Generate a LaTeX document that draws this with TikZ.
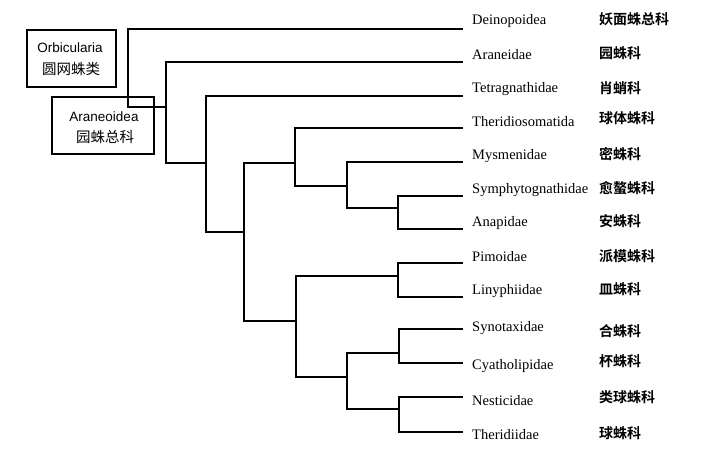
\documentclass[tikz,border=0pt]{standalone}
\usepackage{fontspec}
\setmainfont{Liberation Serif}
\newfontfamily\boxsans{Liberation Sans}
\newfontfamily\cjk{Noto Sans CJK SC}
\newfontfamily\cjkbold{Noto Sans CJK SC Bold}
\begin{document}
\begin{tikzpicture}[x=1pt,y=-1pt,
  branch/.style={line width=1.6pt,line cap=rect},
  taxbox/.style={draw,line width=1.1pt},
  latlabel/.style={anchor=west,inner sep=0pt,font=\fontsize{14.5}{16}\selectfont},
  cnlabel/.style={anchor=west,inner sep=0pt,font=\cjkbold\fontsize{14}{16}\selectfont},
  boxtext/.style={inner sep=0pt,font=\boxsans\fontsize{13.5}{15}\selectfont},
  boxcn/.style={inner sep=0pt,font=\cjk\fontsize{14.5}{16}\selectfont}]
\useasboundingbox (0,0) rectangle (720,448);
% boxes
\node[taxbox,minimum width=89pt,minimum height=57pt] (orb) at (71.5,58.5) {};
\node[boxtext] (orbt) at (70,48) {Orbicularia};
\node[boxcn] (orbc) at (71,69) {圆网蛛类};
\node[taxbox,minimum width=102pt,minimum height=57pt] (ara) at (103,125.5) {};
\node[boxtext] (arat) at (104,117) {Araneoidea};
\node[boxcn] (arac) at (105,137) {园蛛总科};
% tips
\coordinate (t1) at (462,29);
\coordinate (t2) at (462,62);
\coordinate (t3) at (462,96);
\coordinate (t4) at (462,128);
\coordinate (t5) at (462,162);
\coordinate (t6) at (462,196);
\coordinate (t7) at (462,229);
\coordinate (t8) at (462,263);
\coordinate (t9) at (462,297);
\coordinate (t10) at (462,329);
\coordinate (t11) at (462,363);
\coordinate (t12) at (462,397);
\coordinate (t13) at (462,432);
% internal nodes
\coordinate (R) at (128,107);
\coordinate (A) at (166,107);
\coordinate (B) at (206,163);
\coordinate (C) at (244,232);
\coordinate (D) at (295,163);
\coordinate (F) at (347,186);
\coordinate (G) at (398,208);
\coordinate (E) at (296,321);
\coordinate (H) at (398,276);
\coordinate (I) at (347,377);
\coordinate (J) at (399,353);
\coordinate (K) at (399,409);
% branches
\draw[branch] (t1) -| (R) |- (A);
\draw[branch] (t2) -| (A) |- (B);
\draw[branch] (t3) -| (B) |- (C);
\draw[branch] (D) -| (C) |- (E);
\draw[branch] (t4) -| (D) |- (F);
\draw[branch] (t5) -| (F) |- (G);
\draw[branch] (t6) -| (G) |- (t7);
\draw[branch] (H) -| (E) |- (I);
\draw[branch] (t8) -| (H) |- (t9);
\draw[branch] (J) -| (I) |- (K);
\draw[branch] (t10) -| (J) |- (t11);
\draw[branch] (t12) -| (K) |- (t13);
% latin labels
\node[latlabel] (l1) at (472,21) {Deinopoidea};
\node[latlabel] (l2) at (472,55) {Araneidae};
\node[latlabel] (l3) at (472,89) {Tetragnathidae};
\node[latlabel] (l4) at (472,122) {Theridiosomatida};
\node[latlabel] (l5) at (472,156) {Mysmenidae};
\node[latlabel] (l6) at (472,190) {Symphytognathidae};
\node[latlabel] (l7) at (472,223) {Anapidae};
\node[latlabel] (l8) at (472,257) {Pimoidae};
\node[latlabel] (l9) at (472,291) {Linyphiidae};
\node[latlabel] (l10) at (472,328) {Synotaxidae};
\node[latlabel] (l11) at (472,366) {Cyatholipidae};
\node[latlabel] (l12) at (472,401) {Nesticidae};
\node[latlabel] (l13) at (472,435) {Theridiidae};
% chinese labels
\node[cnlabel] (c1) at (599,19) {妖面蛛总科};
\node[cnlabel] (c2) at (599,53) {园蛛科};
\node[cnlabel] (c3) at (599,88) {肖蛸科};
\node[cnlabel] (c4) at (599,118) {球体蛛科};
\node[cnlabel] (c5) at (599,154) {密蛛科};
\node[cnlabel] (c6) at (599,188) {愈螯蛛科};
\node[cnlabel] (c7) at (599,221) {安蛛科};
\node[cnlabel] (c8) at (599,256) {派模蛛科};
\node[cnlabel] (c9) at (599,289) {皿蛛科};
\node[cnlabel] (c10) at (599,331) {合蛛科};
\node[cnlabel] (c11) at (599,361) {杯蛛科};
\node[cnlabel] (c12) at (599,397) {类球蛛科};
\node[cnlabel] (c13) at (599,433) {球蛛科};
\end{tikzpicture}
\end{document}
